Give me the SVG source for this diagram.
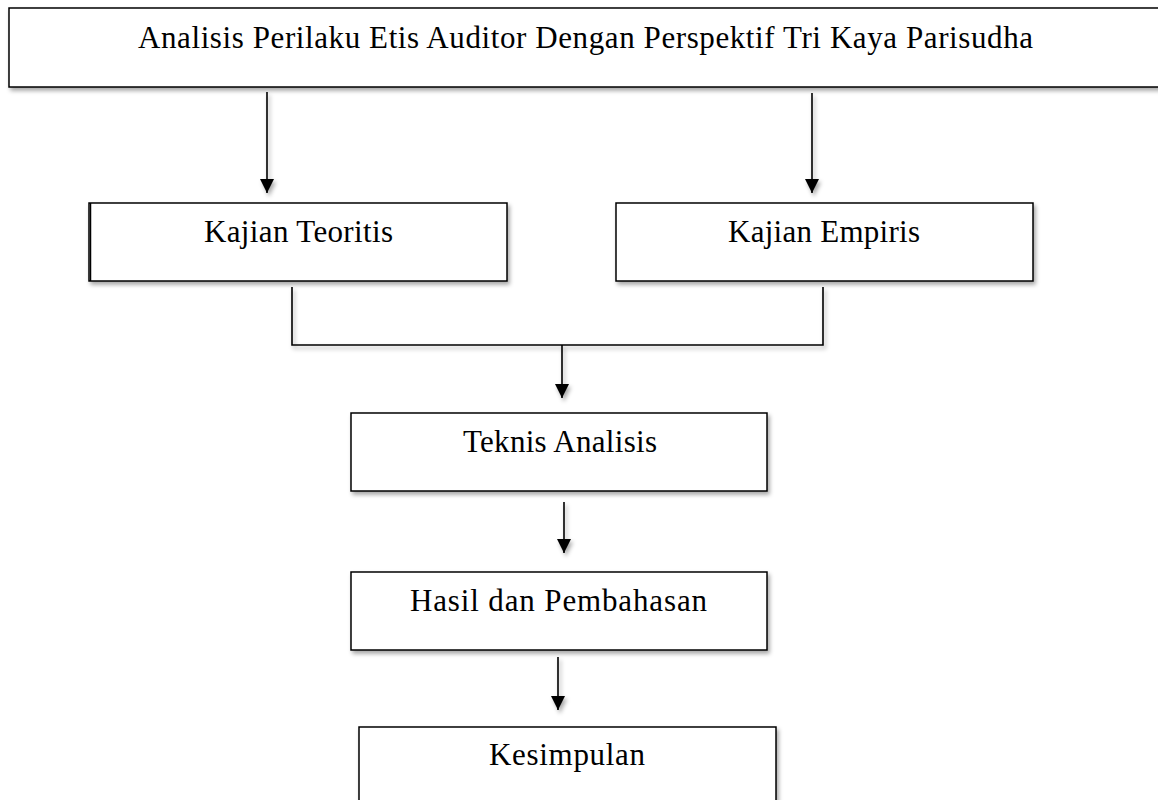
<svg xmlns="http://www.w3.org/2000/svg" width="1158" height="800" viewBox="0 0 1158 800">
  <defs>
    <filter id="sh" filterUnits="userSpaceOnUse" x="0" y="0" width="1158" height="800">
      <feDropShadow dx="2" dy="3" stdDeviation="2" flood-color="#000" flood-opacity="0.35"/>
    </filter>
    <marker id="ah" viewBox="0 0 14 14" refX="14" refY="7" markerWidth="14" markerHeight="14" markerUnits="userSpaceOnUse" orient="auto">
      <path d="M0,0 L14,7 L0,14 Z" fill="#000"/>
    </marker>
    <style>
      .box { fill: #fff; stroke: #000; stroke-width: 1.5; filter: url(#sh); }
      .lbl { font-family: "Liberation Serif", "DejaVu Serif", serif; font-size: 31px; fill: #000; text-anchor: middle; }
      .con { stroke: #000; stroke-width: 1.6; fill: none; filter: url(#sh); }
      .arr { marker-end: url(#ah); }
    </style>
  </defs>
  <rect width="1158" height="800" fill="#fff"/>

  <g id="connectors">
    <line class="con arr" x1="267" y1="92" x2="267" y2="193"/>
    <line class="con arr" x1="812" y1="93" x2="812" y2="193"/>
    <polyline class="con" points="292,287 292,345 823,345 823,287"/>
    <line class="con arr" x1="562" y1="345" x2="562" y2="398"/>
    <line class="con arr" x1="564" y1="502" x2="564" y2="553"/>
    <line class="con arr" x1="558" y1="657" x2="558" y2="710"/>
  </g>

  <g id="node-title">
    <rect class="box" x="9" y="8" width="1153" height="79"/>
    <text class="lbl" x="585.5" y="48" textLength="895" lengthAdjust="spacing">Analisis Perilaku Etis Auditor Dengan Perspektif Tri Kaya Parisudha</text>
  </g>

  <g id="node-teoritis">
    <rect class="box" x="89" y="203" width="418" height="78"/>
    <line x1="90.5" y1="203" x2="90.5" y2="281" stroke="#000" stroke-width="1.5"/>
    <text class="lbl" x="298.5" y="242" textLength="189" lengthAdjust="spacing">Kajian Teoritis</text>
  </g>

  <g id="node-empiris">
    <rect class="box" x="616" y="203" width="417" height="78"/>
    <text class="lbl" x="824" y="242" textLength="192" lengthAdjust="spacing">Kajian Empiris</text>
  </g>

  <g id="node-teknis">
    <rect class="box" x="351" y="413" width="416" height="78"/>
    <text class="lbl" x="560" y="452" textLength="194" lengthAdjust="spacing">Teknis Analisis</text>
  </g>

  <g id="node-hasil">
    <rect class="box" x="351" y="572" width="416" height="78"/>
    <text class="lbl" x="558.5" y="611" textLength="297" lengthAdjust="spacing">Hasil dan Pembahasan</text>
  </g>

  <g id="node-kesimpulan">
    <rect class="box" x="359" y="727" width="417" height="90"/>
    <text class="lbl" x="567" y="765" textLength="156" lengthAdjust="spacing">Kesimpulan</text>
  </g>
</svg>
